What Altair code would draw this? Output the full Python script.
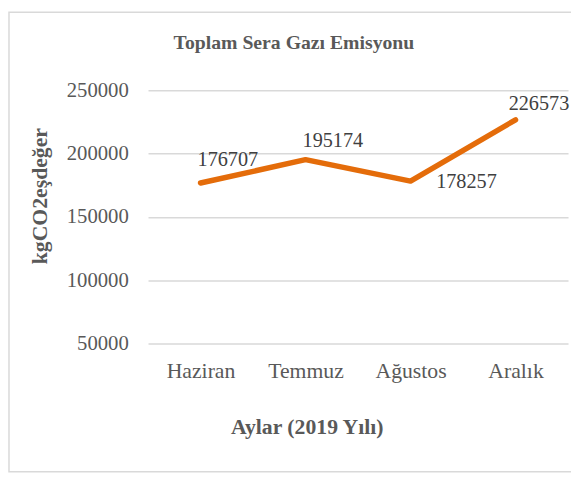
import altair as alt
import pandas as pd

months = ["Haziran", "Temmuz", "Ağustos", "Aralık"]
emissions = [176707, 195174, 178257, 226573]
y_ticks = [50000, 100000, 150000, 200000, 250000]
chart_title = "Toplam Sera Gazı Emisyonu"

df = pd.DataFrame({"Ay": months, "Emisyon": emissions})

FONT = "Liberation Serif"
GRAY = "#595959"
LINE = "#E46C0A"

# label offsets (style only): dx, dy relative to the point
label_offsets = {
    "Haziran": (-3, -17),
    "Temmuz": (-3, -13),
    "Ağustos": (26, 7),
    "Aralık": (-7, -10),
}

x_enc = alt.X(
    "Ay:N",
    sort=months,
    scale=alt.Scale(type="point", padding=0.5),
    axis=alt.Axis(
        title="Aylar (2019 Yılı)",
        titleFont=FONT, titleFontSize=22, titleFontWeight="bold", titleColor=GRAY,
        titlePadding=36, titleX=161,
        labelFont=FONT, labelFontSize=22, labelColor=GRAY, labelPadding=17,
        ticks=False, domain=False, grid=False, labelAngle=0,
    ),
)
y_enc = alt.Y(
    "Emisyon:Q",
    scale=alt.Scale(domain=[50000, 250000], nice=False, zero=False),
    axis=alt.Axis(
        title="kgCO2eşdeğer",
        titleFont=FONT, titleFontSize=22, titleFontWeight="bold", titleColor=GRAY,
        titleX=-110, titleY=107, titleAngle=270, titleBaseline="middle", titleAlign="center",
        values=y_ticks, format="d",
        labelFont=FONT, labelFontSize=21, labelColor=GRAY, labelPadding=20,
        ticks=False, domain=False, grid=True, gridColor="#d9d9d9", gridWidth=1.5,
    ),
)

base = alt.Chart(df)

line = base.mark_line(color=LINE, strokeWidth=5.5, strokeCap="round", strokeJoin="round").encode(
    x=x_enc, y=y_enc
)

labels = []
for m, (dx, dy) in label_offsets.items():
    labels.append(
        base.transform_filter(alt.datum.Ay == m)
        .mark_text(font=FONT, fontSize=20.5, color="#404040", align="left", baseline="alphabetic", dx=dx, dy=dy)
        .encode(x=alt.X("Ay:N", sort=months), y="Emisyon:Q", text=alt.Text("Emisyon:Q", format="d"))
    )

title_df = pd.DataFrame({"t": [chart_title]})
title = alt.Chart(title_df).mark_text(
    font=FONT, fontSize=20, fontWeight="bold", color=GRAY, align="center", baseline="middle"
).encode(text="t:N", x=alt.value(148), y=alt.value(-48))

border = alt.Chart(pd.DataFrame({"a": [0]})).mark_rect(
    fill=None, stroke="#d9d9d9", strokeWidth=1.5
).encode(
    x=alt.value(-141), x2=alt.value(431), y=alt.value(-79), y2=alt.value(387)
)

chart = alt.layer(line, *labels, title, border).properties(
    width=426,
    height=257,
    autosize=alt.AutoSizeParams(type="none"),
    padding={"left": 142, "top": 80, "right": 3, "bottom": 131},
).configure_view(stroke=None)

chart.save("out.html", embed_options={"renderer": "svg", "actions": False})
